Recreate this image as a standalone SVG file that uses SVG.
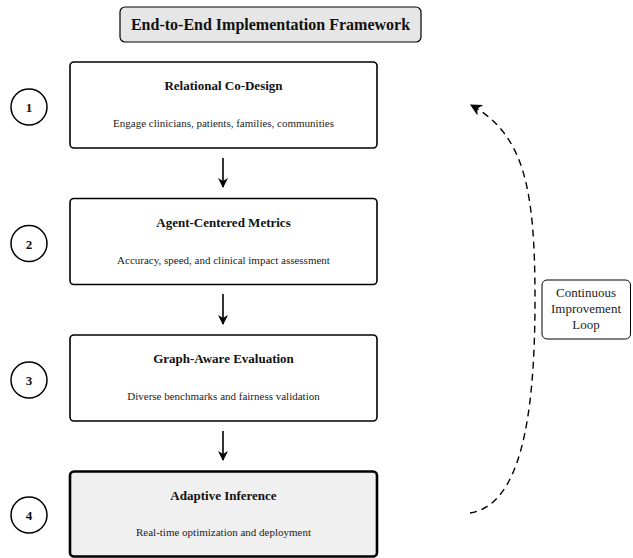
<svg xmlns="http://www.w3.org/2000/svg" width="633" height="558" viewBox="0 0 633 558">
<style>
.box{fill:#fff;stroke:#000;stroke-width:1.6}
.final{fill:#f0f0f0;stroke:#000;stroke-width:2.6}
.circ{fill:#fff;stroke:#000;stroke-width:1.5}
.t{font-family:"Liberation Serif","Times New Roman",serif;font-weight:bold;font-size:13px;text-anchor:middle;fill:#111}
.h{font-family:"Liberation Serif","Times New Roman",serif;font-weight:bold;font-size:16px;text-anchor:middle;fill:#111}
.s{font-family:"Liberation Serif","Times New Roman",serif;font-size:11px;text-anchor:middle;fill:#222}
.n{font-family:"Liberation Serif","Times New Roman",serif;font-weight:bold;font-size:13px;text-anchor:middle;fill:#111}
.l{font-family:"Liberation Serif","Times New Roman",serif;font-size:13px;text-anchor:middle;fill:#222}
.arr{stroke:#000;stroke-width:1.6;fill:none}
</style>
<defs>
<marker id="ah" viewBox="0 0 10 10" refX="9" refY="5" markerWidth="10" markerHeight="10" markerUnits="userSpaceOnUse" orient="auto">
<path d="M0,0 L10,5 L0,10 L3,5 Z" fill="#000"/>
</marker>
<marker id="ah2" viewBox="0 0 10 10" refX="9" refY="5" markerWidth="12" markerHeight="12" markerUnits="userSpaceOnUse" orient="auto">
<path d="M0,0 L10,5 L0,10 L3,5 Z" fill="#000"/>
</marker>
</defs>
<g id="title">
<rect x="120" y="7" width="301" height="35" rx="5" fill="#e6e6e6" stroke="#000" stroke-width="1.2"/>
<text class="h" x="270.5" y="30">End-to-End Implementation Framework</text>
</g>
<g id="step1">
<circle class="circ" cx="29" cy="107" r="18"/>
<text class="n" x="29" y="112">1</text>
<rect class="box" x="70" y="62" width="307" height="86" rx="4"/>
<text class="t" x="223.5" y="90">Relational Co-Design</text>
<text class="s" x="223.5" y="127">Engage clinicians, patients, families, communities</text>
</g>
<g id="step2">
<circle class="circ" cx="29" cy="243.5" r="18"/>
<text class="n" x="29" y="248.5">2</text>
<rect class="box" x="70" y="198.5" width="307" height="86" rx="4"/>
<text class="t" x="223.5" y="226.5">Agent-Centered Metrics</text>
<text class="s" x="223.5" y="263.5">Accuracy, speed, and clinical impact assessment</text>
</g>
<g id="step3">
<circle class="circ" cx="29" cy="380" r="18"/>
<text class="n" x="29" y="385">3</text>
<rect class="box" x="70" y="335" width="307" height="86" rx="4"/>
<text class="t" x="223.5" y="363">Graph-Aware Evaluation</text>
<text class="s" x="223.5" y="400">Diverse benchmarks and fairness validation</text>
</g>
<g id="step4">
<circle class="circ" cx="29" cy="515" r="18"/>
<text class="n" x="29" y="520">4</text>
<rect class="final" x="70" y="471.5" width="307" height="85" rx="4"/>
<text class="t" x="223.5" y="500">Adaptive Inference</text>
<text class="s" x="223.5" y="535.5">Real-time optimization and deployment</text>
</g>
<g id="loop-label">
<rect x="542" y="280" width="88.5" height="59" rx="5" fill="#fff" stroke="#000" stroke-width="1"/>
<text class="l" x="586" y="297">Continuous</text>
<text class="l" x="586" y="313">Improvement</text>
<text class="l" x="586" y="329">Loop</text>
</g>
<g id="connectors">
<line class="arr" x1="223" y1="158" x2="223" y2="187" marker-end="url(#ah)"/>
<line class="arr" x1="223" y1="294" x2="223" y2="324" marker-end="url(#ah)"/>
<line class="arr" x1="223" y1="431" x2="223" y2="460" marker-end="url(#ah)"/>
<path d="M 470 513 C 520 505, 535 420, 535 300 C 535 190, 525 135, 471 105" fill="none" stroke="#000" stroke-width="1.4" stroke-dasharray="7,5" marker-end="url(#ah2)"/>
</g>
</svg>
